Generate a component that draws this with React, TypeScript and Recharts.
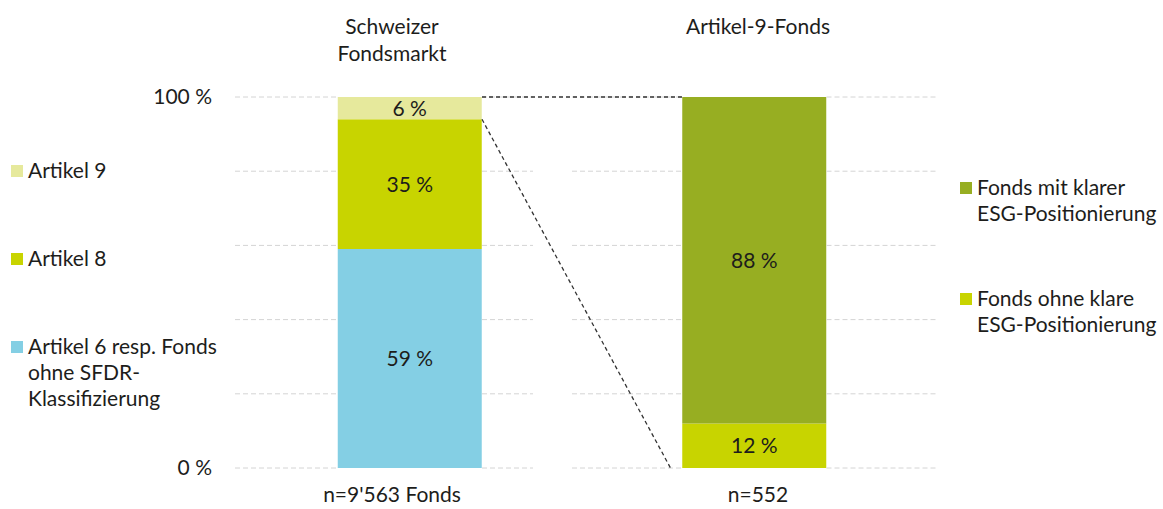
import React from "react";
import { ComposedChart, Bar, XAxis, YAxis, ReferenceLine, LabelList } from "recharts";

// Kategorien und Werte (in %)
const categories = ["Schweizer Fondsmarkt", "Artikel-9-Fonds"];
const titleLines = [["Schweizer", "Fondsmarkt"], ["Artikel-9-Fonds"]];
const sampleLabels = ["n=9'563 Fonds", "n=552"];

const artikel6 = [59, null];
const artikel8 = [35, null];
const artikel9 = [6, null];
const esgOhne = [null, 12];
const esgMit = [null, 88];

const yTicks = [0, 20, 40, 60, 80, 100];
const yLabelTicks = [0, 100];

const FONT = "Lato, 'Noto Sans', sans-serif";
const INK = "#1d1d1b";
const C_ART9 = "#e6e99c";
const C_ART8 = "#c8d400";
const C_ART6 = "#84cfe4";
const C_MIT = "#97ae22";
const C_OHNE = "#c8d400";

// Layout der Zeichenfläche (Einheiten der Hilfsachse = px)
const PLOT_W = 702;
const BAR = 144;
const barCenters = [175, 519.5];
const panels = [
  [0, 298],
  [337, 702],
];
const labelPos = [157, 523];

const data = categories.map((name, i) => ({
  name,
  artikel6: artikel6[i],
  artikel8: artikel8[i],
  artikel9: artikel9[i],
  esgOhne: esgOhne[i],
  esgMit: esgMit[i],
}));

const pct = (v: any) => (v == null ? "" : `${v} %`);
const zero = () => 0;

const TitleTick = (props: any) => {
  const { x, y, index } = props;
  const lines = titleLines[index] || [];
  return (
    <text textAnchor="middle" fontSize={21} fill={INK} fontFamily={FONT}>
      {lines.map((l, i) => (
        <tspan key={i} x={x} y={y + i * 27}>
          {l}
        </tspan>
      ))}
    </text>
  );
};

const SampleTick = (props: any) => {
  const { x, y, index } = props;
  return (
    <text x={x} y={y} textAnchor="middle" fontSize={21} fill={INK} fontFamily={FONT}>
      {sampleLabels[index]}
    </text>
  );
};

// Gitterlinien je Panel, um den Balken herum geteilt
const gridSegments: { x1: number; x2: number; y: number }[] = [];
panels.forEach(([from, to], p) => {
  const left = barCenters[p] - BAR / 2;
  const right = barCenters[p] + BAR / 2;
  yTicks.forEach((y) => {
    gridSegments.push({ x1: from, x2: left, y });
    gridSegments.push({ x1: right, x2: to, y });
  });
});

const leftEdge = barCenters[0] + BAR / 2;
const rightEdge = barCenters[1] - BAR / 2;
const leftTop = (artikel6[0] as number) + (artikel8[0] as number) + (artikel9[0] as number);
const art8Top = (artikel6[0] as number) + (artikel8[0] as number);

const legendLeft = [
  { color: C_ART9, lines: ["Artikel 9"], y: 165 },
  { color: C_ART8, lines: ["Artikel 8"], y: 253 },
  { color: C_ART6, lines: ["Artikel 6 resp. Fonds", "ohne SFDR-", "Klassifizierung"], y: 341 },
];
const legendRight = [
  { color: C_MIT, lines: ["Fonds mit klarer", "ESG-Positionierung"], y: 182 },
  { color: C_OHNE, lines: ["Fonds ohne klare", "ESG-Positionierung"], y: 293 },
];

function Legend({ items, x }: { items: typeof legendLeft; x: number }) {
  return (
    <g>
      {items.map((it) => (
        <g key={it.lines[0]}>
          <rect x={x} y={it.y} width={12} height={12} fill={it.color} />
          <text fontSize={21} fill={INK} fontFamily={FONT}>
            {it.lines.map((l, i) => (
              <tspan key={i} x={x + 17} y={it.y + 12.5 + i * 26}>
                {l}
              </tspan>
            ))}
          </text>
        </g>
      ))}
    </g>
  );
}

export default function App() {
  const band = barCenters[1] - barCenters[0];
  const padLeft = barCenters[0] - band / 2;
  const padRight = PLOT_W - padLeft - 2 * band;
  const labelStyle = { fontSize: 21, fill: INK, fontFamily: FONT };

  return (
    <div style={{ position: "relative", width: 1163, height: 509, background: "#fff", fontFamily: FONT }}>
      <style>{"body{margin:0}"}</style>
      <ComposedChart
        width={1163}
        height={509}
        data={data}
        margin={{ top: 0, right: 1163 - 235 - PLOT_W, bottom: 0, left: 0 }}
      >
        <XAxis
          xAxisId="cat"
          dataKey="name"
          type="category"
          hide
          height={0}
          padding={{ left: padLeft, right: padRight }}
        />
        <XAxis
          xAxisId="g"
          dataKey={zero}
          type="number"
          scale="linear"
          domain={[0, PLOT_W]}
          allowDataOverflow
          ticks={labelPos}
          interval={0}
          height={41}
          axisLine={false}
          tickLine={false}
          tickSize={0}
          tickMargin={34}
          tick={<SampleTick />}
        />
        <XAxis
          xAxisId="top"
          dataKey={zero}
          orientation="top"
          type="number"
          scale="linear"
          domain={[0, PLOT_W]}
          allowDataOverflow
          ticks={labelPos}
          interval={0}
          height={97}
          axisLine={false}
          tickLine={false}
          tickSize={0}
          tickMargin={63.5}
          tick={<TitleTick />}
        />
        <YAxis
          width={235}
          domain={[0, 100]}
          ticks={yLabelTicks}
          interval={0}
          axisLine={false}
          tickLine={false}
          tickSize={0}
          tickMargin={23}
          tickFormatter={pct}
          tick={labelStyle}
        />

        {gridSegments.map((s, i) => (
          <ReferenceLine
            key={`g${i}`}
            xAxisId="g"
            ifOverflow="visible"
            segment={[
              { x: s.x1, y: s.y },
              { x: s.x2, y: s.y },
            ]}
            stroke="#d4d4d4"
            strokeDasharray="5 3"
            strokeWidth={1}
          />
        ))}

        <Bar xAxisId="cat" dataKey="artikel6" stackId="a" fill={C_ART6} barSize={BAR} isAnimationActive={false}>
          <LabelList dataKey="artikel6" position="center" formatter={pct} style={labelStyle} />
        </Bar>
        <Bar xAxisId="cat" dataKey="artikel8" stackId="a" fill={C_ART8} barSize={BAR} isAnimationActive={false}>
          <LabelList dataKey="artikel8" position="center" formatter={pct} style={labelStyle} />
        </Bar>
        <Bar xAxisId="cat" dataKey="artikel9" stackId="a" fill={C_ART9} barSize={BAR} isAnimationActive={false}>
          <LabelList dataKey="artikel9" position="center" formatter={pct} style={labelStyle} />
        </Bar>
        <Bar xAxisId="cat" dataKey="esgOhne" stackId="a" fill={C_OHNE} barSize={BAR} isAnimationActive={false}>
          <LabelList dataKey="esgOhne" position="center" formatter={pct} style={labelStyle} />
        </Bar>
        <Bar xAxisId="cat" dataKey="esgMit" stackId="a" fill={C_MIT} barSize={BAR} isAnimationActive={false}>
          <LabelList dataKey="esgMit" position="center" formatter={pct} style={labelStyle} />
        </Bar>

        {/* Verbindungslinien vom Artikel-9-Anteil zum rechten Balken */}
        <ReferenceLine
          xAxisId="g"
          ifOverflow="visible"
          segment={[
            { x: leftEdge, y: leftTop },
            { x: rightEdge, y: leftTop },
          ]}
          stroke="#333"
          strokeDasharray="4 3"
          strokeWidth={1.3}
        />
        <ReferenceLine
          xAxisId="g"
          ifOverflow="visible"
          segment={[
            { x: leftEdge, y: art8Top },
            { x: rightEdge - 12, y: 0 },
          ]}
          stroke="#333"
          strokeDasharray="4 3"
          strokeWidth={1.3}
        />
      </ComposedChart>
      <svg width={1163} height={509} style={{ position: "absolute", left: 0, top: 0, pointerEvents: "none" }}>
        <Legend items={legendLeft} x={11} />
        <Legend items={legendRight} x={960} />
      </svg>
    </div>
  );
}
